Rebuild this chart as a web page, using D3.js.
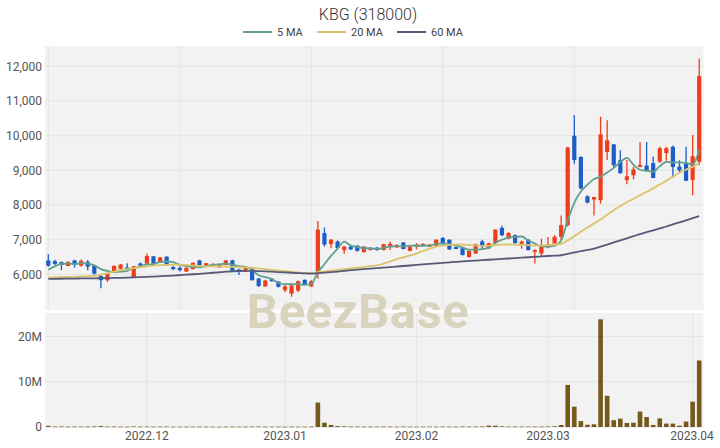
<!DOCTYPE html>
<html><head><meta charset="utf-8">
<script src="https://cdn.jsdelivr.net/npm/d3@7"></script>
<style>body{margin:0;background:#fff}svg{display:block;font-family:Roboto,"Noto Sans",sans-serif}</style>
</head><body><svg id="c" width="720" height="448"></svg>
<script>
const dates = [
"2022-11-10","2022-11-11","2022-11-14","2022-11-15","2022-11-16","2022-11-17","2022-11-18","2022-11-21","2022-11-22","2022-11-23",
"2022-11-24","2022-11-25","2022-11-28","2022-11-29","2022-11-30","2022-12-01","2022-12-02","2022-12-05","2022-12-06","2022-12-07",
"2022-12-08","2022-12-09","2022-12-12","2022-12-13","2022-12-14","2022-12-15","2022-12-16","2022-12-19","2022-12-20","2022-12-21",
"2022-12-22","2022-12-23","2022-12-26","2022-12-27","2022-12-28","2022-12-29","2023-01-02","2023-01-03","2023-01-04","2023-01-05",
"2023-01-06","2023-01-09","2023-01-10","2023-01-11","2023-01-12","2023-01-13","2023-01-16","2023-01-17","2023-01-18","2023-01-19",
"2023-01-20","2023-01-25","2023-01-26","2023-01-27","2023-01-30","2023-01-31","2023-02-01","2023-02-02","2023-02-03","2023-02-06",
"2023-02-07","2023-02-08","2023-02-09","2023-02-10","2023-02-13","2023-02-14","2023-02-15","2023-02-16","2023-02-17","2023-02-20",
"2023-02-21","2023-02-22","2023-02-23","2023-02-24","2023-02-27","2023-02-28","2023-03-02","2023-03-03","2023-03-06","2023-03-07",
"2023-03-08","2023-03-09","2023-03-10","2023-03-13","2023-03-14","2023-03-15","2023-03-16","2023-03-17","2023-03-20","2023-03-21",
"2023-03-22","2023-03-23","2023-03-24","2023-03-27","2023-03-28","2023-03-29","2023-03-30","2023-03-31","2023-04-03","2023-04-04"];

const open = [6400,6380,6350,6240,6400,6250,6360,6260,5950,5830,
6090,6160,6200,5920,6310,6310,6520,6340,6510,6210,
6190,6080,6150,6400,6220,6240,6200,6270,6400,6140,
6070,6170,5880,5650,5870,5790,5540,5440,5530,5840,
5650,6070,7190,6870,6950,6700,6800,6830,6640,6700,
6770,6700,6790,6780,6920,6680,6800,6820,6800,6830,
7050,7000,6790,6750,6500,6600,6950,6750,6900,7340,
7030,7130,6880,7000,6650,6600,6780,6890,7080,7420,
10000,9390,8250,8160,8140,9530,9750,9290,8720,8860,
9100,9140,9210,9250,9500,9680,9110,9200,8720,9250];
const high = [6580,6420,6370,6370,6420,6430,6410,6270,6000,6040,
6260,6300,6320,6250,6340,6600,6530,6500,6520,6240,
6220,6200,6340,6420,6330,6320,6300,6420,6420,6160,
6210,6180,5890,5840,5880,5800,5700,5700,5820,5850,
5830,7540,7350,7020,6980,6820,6850,6840,6810,6780,
6790,6880,6950,6870,6930,6820,6900,6890,6870,7010,
7070,7010,6800,6760,6690,6880,7000,6910,7300,7400,
7220,7150,6970,7010,6720,7030,7080,7130,7700,9680,
10600,9400,8280,8240,10550,10450,9760,9580,9300,9100,
9820,9820,9400,9680,9680,9720,9290,9680,10020,12230];
const low = [6220,6270,6120,6230,6190,6220,6120,5990,5600,5780,
6060,6140,6120,5900,6220,6300,6290,6330,6250,6120,
6080,6070,6140,6200,6210,6220,6190,6260,6070,5980,
6060,5820,5640,5640,5790,5620,5480,5350,5480,5700,
5640,5870,6800,6750,6730,6590,6700,6650,6630,6690,
6680,6690,6700,6760,6720,6660,6720,6800,6790,6820,
6820,6700,6720,6540,6480,6590,6700,6740,6880,7100,
7010,6880,6740,6690,6310,6500,6750,6880,6980,7380,
9190,8450,8050,7700,8040,9300,9100,8900,8600,8740,
9090,8990,8770,9220,9280,8790,8930,8690,8280,9150];
const close = [6250,6300,6270,6360,6290,6390,6220,6020,5830,6020,
6240,6280,6140,6230,6250,6530,6310,6490,6270,6150,
6120,6190,6330,6220,6320,6300,6290,6400,6100,6080,
6200,5830,5660,5820,5800,5640,5650,5680,5800,5710,
5800,7290,6860,7000,6760,6800,6720,6680,6800,6760,
6700,6870,6880,6850,6730,6800,6860,6880,6860,7000,
6870,6720,6730,6560,6680,6870,6800,6900,7290,7130,
7190,6900,6950,6700,6700,6800,6860,7080,7420,9660,
9300,8480,8070,8230,10040,9870,9150,8920,8830,9030,
9160,9000,8780,9640,9640,9100,9000,8700,9410,11720];
const volume = [250000,100000,120000,80000,100000,90000,100000,120000,200000,100000,
100000,80000,70000,120000,80000,90000,70000,80000,90000,60000,
70000,60000,80000,70000,60000,60000,50000,70000,80000,60000,
60000,90000,100000,70000,60000,80000,60000,90000,70000,60000,
70000,5400000,950000,450000,200000,150000,100000,90000,80000,70000,
80000,90000,80000,70000,80000,70000,60000,70000,80000,70000,
90000,80000,70000,100000,80000,90000,120000,300000,280000,150000,
100000,90000,80000,100000,90000,80000,100000,150000,440000,9300000,
4500000,1300000,500000,600000,23800000,6900000,1500000,1850000,900000,950000,
3400000,2200000,450000,1900000,750000,750000,300000,1200000,5600000,14700000];
const ma5Head = [6130,6230,6300,6310];
const ma20 = [5910,5915,5918,5922,5930,5938,5946,5960,5990,6030,
6080,6120,6150,6180,6205,6230,6250,6265,6275,6280,
6280,6270,6255,6240,6232,6230,6230,6225,6215,6205,
6200,6185,6170,6150,6130,6110,6090,6072,6055,6040,
6040,6060,6080,6105,6130,6150,6170,6190,6210,6235,
6260,6310,6370,6440,6490,6545,6600,6670,6740,6800,
6830,6850,6860,6855,6845,6835,6820,6830,6845,6855,
6860,6855,6850,6840,6830,6835,6845,6860,6880,6980,
7100,7230,7350,7470,7580,7720,7850,7970,8080,8180,
8280,8380,8480,8590,8700,8820,8930,9020,9100,9220];
const ma60 = [5870,5870,5872,5875,5877,5880,5882,5885,5888,5892,
5896,5900,5905,5910,5918,5926,5935,5945,5955,5965,
5978,5990,6002,6015,6030,6045,6060,6075,6085,6095,
6100,6098,6092,6085,6075,6065,6055,6045,6035,6025,
6020,6035,6050,6065,6080,6100,6120,6135,6150,6165,
6180,6195,6210,6225,6240,6255,6270,6285,6300,6315,
6330,6345,6358,6372,6385,6397,6409,6421,6433,6445,
6457,6469,6481,6493,6505,6517,6528,6539,6550,6590,
6630,6670,6705,6740,6800,6860,6920,6980,7040,7100,
7160,7215,7270,7325,7380,7440,7500,7560,7620,7680];
const priceTicks = [6000,7000,8000,9000,10000,11000,12000];
const volTicks = [0,10000000,20000000];
const priceGridIdx = [0,20,40,60,80];
const seriesNames = ["5 MA","20 MA","60 MA"];
const seriesColors = ["#5fa08e","#dcc46c","#565a78"];

const ma5 = close.map((c,i)=> i<4 ? ma5Head[i] : d3.mean(close.slice(i-4,i+1)));
const mas = [ma5, ma20, ma60];

const svg = d3.select("#c");
const L=45, R=702.5, PT=46, PB=310, VT=313, VB=427;
const x = d3.scaleBand().domain(d3.range(dates.length)).range([L,R]).padding(0);
const cx = i => x(i) + x.bandwidth()/2;
const y = d3.scaleLinear().domain([4970,12590]).range([PB,PT]);
const yv = d3.scaleLinear().domain([0,25200000]).range([VB,VT]);
const UP="#ee3d1a", DOWN="#1d5dc6", GRID="#e5e5e5";

svg.append("rect").attr("x",L).attr("y",PT).attr("width",R-L+1).attr("height",PB-PT).attr("fill","#f2f2f2");
svg.append("rect").attr("x",L).attr("y",VT).attr("width",R-L+1).attr("height",VB-VT+1).attr("fill","#f2f2f2");

svg.append("g").selectAll("line").data(priceTicks).join("line")
  .attr("x1",L).attr("x2",R+1).attr("y1",d=>y(d)).attr("y2",d=>y(d)).attr("stroke",GRID);
svg.append("g").selectAll("line").data(priceGridIdx).join("line")
  .attr("x1",d=>cx(d)).attr("x2",d=>cx(d)).attr("y1",PT).attr("y2",PB).attr("stroke",GRID);
const monthIdx = dates.map((d,i)=>i).filter(i=> i>0 && dates[i].slice(0,7)!==dates[i-1].slice(0,7));
svg.append("g").selectAll("line").data(volTicks).join("line")
  .attr("x1",L).attr("x2",R+1).attr("y1",d=>yv(d)).attr("y2",d=>yv(d)).attr("stroke",GRID);
svg.append("g").selectAll("line").data(monthIdx).join("line")
  .attr("x1",d=>cx(d)).attr("x2",d=>cx(d)).attr("y1",VT).attr("y2",VB).attr("stroke",GRID);

svg.append("text").attr("x",358).attr("y",328).attr("text-anchor","middle")
  .attr("font-size",49).attr("font-weight",700).attr("letter-spacing",0.5).attr("fill","#d9d3bd").text("BeezBase");

const idx = d3.range(dates.length);
const bw = 4.2;
const cg = svg.append("g");
cg.selectAll("line").data(idx).join("line")
  .attr("x1",cx).attr("x2",cx).attr("y1",i=>y(high[i])).attr("y2",i=>y(low[i]))
  .attr("stroke",i=>close[i]>=open[i]?UP:DOWN).attr("stroke-width",1.3);
cg.selectAll("rect").data(idx).join("rect")
  .attr("x",i=>cx(i)-bw/2).attr("width",bw)
  .attr("y",i=>y(Math.max(open[i],close[i])))
  .attr("height",i=>Math.max(1.2, Math.abs(y(open[i])-y(close[i]))))
  .attr("fill",i=>close[i]>=open[i]?UP:DOWN);

const line = (arr)=> d3.line().x((d,i)=>cx(i)).y(d=>y(d)).curve(d3.curveMonotoneX)(arr);
mas.forEach((m,k)=>{
  svg.append("path").attr("d",line(m)).attr("fill","none").attr("stroke",seriesColors[k]).attr("stroke-width",1.8);
});

svg.append("g").selectAll("rect").data(idx).join("rect")
  .attr("x",i=>cx(i)-2.3).attr("width",4.6)
  .attr("y",i=>yv(volume[i])).attr("height",i=>Math.max(0.6, yv(0)-yv(volume[i])))
  .attr("fill","#74591a");

const fmt = d3.format(",");
svg.append("g").selectAll("text").data(priceTicks).join("text")
  .attr("x",42).attr("y",d=>y(d)).attr("dy","0.35em").attr("text-anchor","end")
  .attr("font-size",12).attr("fill","#555").text(d=>fmt(d));
svg.append("g").selectAll("text").data(volTicks).join("text")
  .attr("x",42).attr("y",d=>yv(d)).attr("dy","0.35em").attr("text-anchor","end")
  .attr("font-size",12).attr("fill","#555").text(d=> d===0?"0":(d/1e6)+"M");
svg.append("g").selectAll("text").data(monthIdx).join("text")
  .attr("x",i=>Math.min(cx(i), 692)).attr("y",440).attr("text-anchor","middle")
  .attr("font-size",12).attr("fill","#555").text(i=>dates[i].slice(0,4)+"."+dates[i].slice(5,7));

svg.append("text").attr("x",368).attr("y",20).attr("text-anchor","middle")
  .attr("font-size",16).attr("font-weight",300).attr("fill","#333").text("KBG (318000)");
const legX = [243,317,397];
seriesNames.forEach((n,k)=>{
  svg.append("line").attr("x1",legX[k]).attr("x2",legX[k]+29).attr("y1",32).attr("y2",32)
    .attr("stroke",seriesColors[k]).attr("stroke-width",2);
  svg.append("text").attr("x",legX[k]+34).attr("y",36).attr("font-size",11).attr("fill","#444").text(n);
});
</script></body></html>
